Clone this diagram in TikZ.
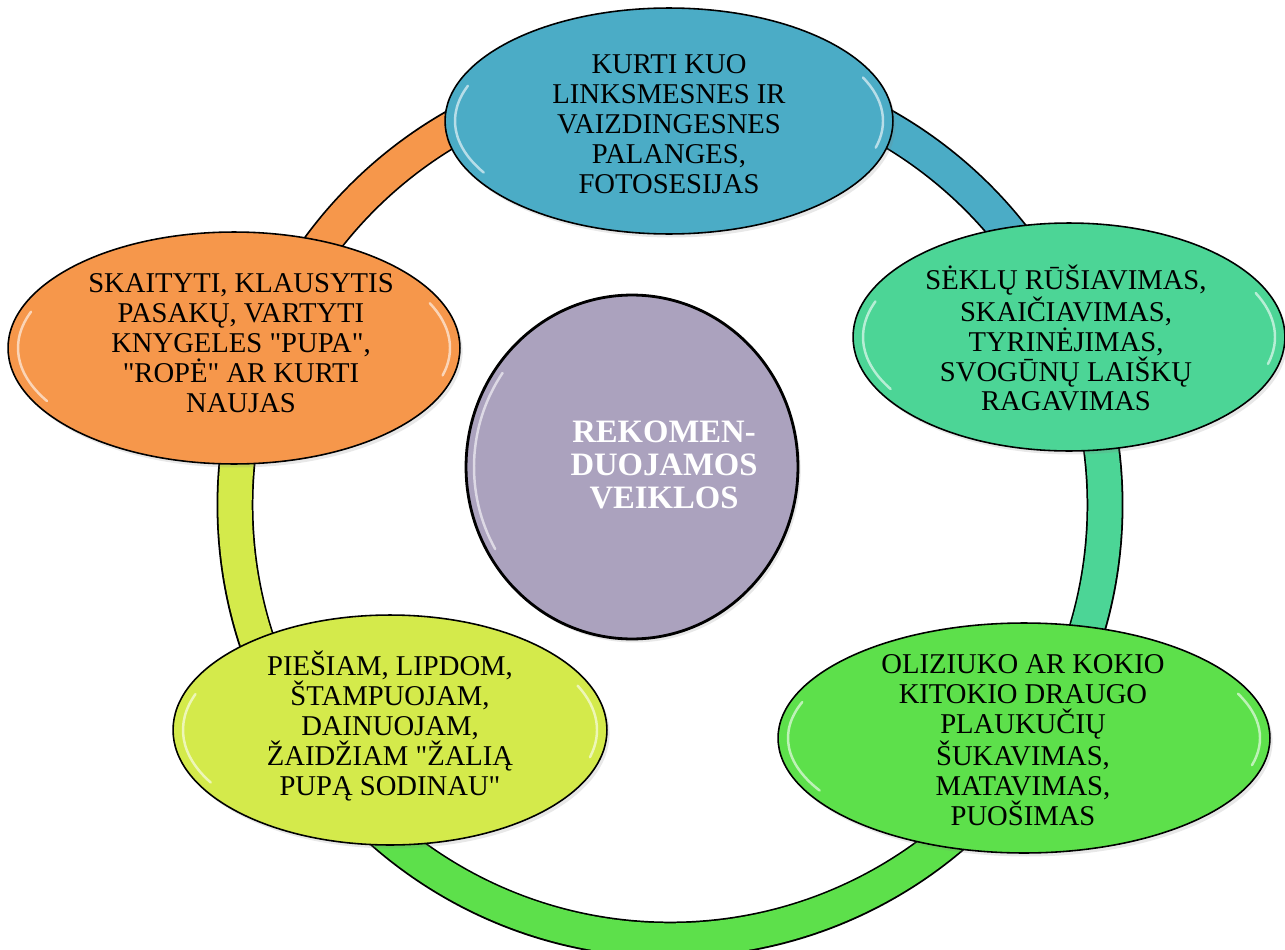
\documentclass[tikz,border=0pt]{standalone}
\usepackage{fontspec}
\setmainfont{Liberation Serif}
\newfontfamily\plainserif{Liberation Serif}
\usetikzlibrary{shapes.geometric,shadows,calc}
\definecolor{cBlue}{HTML}{4BACC6}
\definecolor{cTeal}{HTML}{4CD596}
\definecolor{cGreen}{HTML}{5DE04B}
\definecolor{cYellow}{HTML}{D4EA4B}
\definecolor{cOrange}{HTML}{F6974B}
\definecolor{cPurple}{HTML}{ABA2BE}
\newcommand{\dqt}{{\plainserif\symbol{34}}}
\begin{document}
\begin{tikzpicture}[x=0.02cm,y=-0.02cm,
  bubble/.style={ellipse, draw=black, line width=0.9pt, inner sep=0pt,
    drop shadow={opacity=0.18, shadow xshift=1.5pt, shadow yshift=-2pt}},
  txt/.style={align=center, inner sep=0pt, text=black,
    font=\fontsize{16.3}{17}\selectfont},
  ctxt/.style={align=center, inner sep=0pt,
    font=\bfseries\fontsize{18.6}{19}\selectfont},
  gloss/.style={white, opacity=0.6, line width=1.4pt, line cap=round},
  ringout/.style={black, line width=21pt},
  ringband/.style={line width=19pt}]
\useasboundingbox (0,0) rectangle (1285,950);

% ring behind the ellipses
\coordinate (ring) at (670,505);
\draw[ringout] (ring) circle (435);
\draw[ringband, cBlue]   ($(ring)+(-90:435)$)  arc (-90:-23:435);
\draw[ringband, cTeal]   ($(ring)+(-23:435)$)  arc (-23:33.4:435);
\draw[ringband, cGreen]  ($(ring)+(33.4:435)$) arc (33.4:141.2:435);
\draw[ringband, cYellow] ($(ring)+(141.2:435)$) arc (141.2:199.8:435);
\draw[ringband, cOrange] ($(ring)+(199.8:435)$) arc (199.8:270:435);

% ellipses
\node[bubble, fill=cBlue, minimum width=8.96cm, minimum height=4.52cm] (n1) at (669,121) {};
\node[bubble, fill=cTeal, minimum width=8.64cm, minimum height=4.56cm] (n2) at (1069,337) {};
\node[bubble, fill=cGreen, minimum width=9.84cm, minimum height=4.6cm] (n3) at (1024,738) {};
\node[bubble, fill=cYellow, minimum width=8.68cm, minimum height=4.6cm] (n4) at (390,730) {};
\node[bubble, fill=cOrange, minimum width=9.04cm, minimum height=4.64cm] (n5) at (234,348) {};
\node[bubble, fill=cPurple, line width=1.6pt, minimum width=6.64cm, minimum height=6.88cm] (c) at (632,467) {};

% glossy highlights
\draw[gloss] ($(n1)+(150:214 and 103)$) arc (150:200:214 and 103);
\draw[gloss] ($(n1)+(-25:214 and 103)$) arc (-25:15:214 and 103);
\draw[gloss] ($(n2)+(150:206 and 104)$) arc (150:200:206 and 104);
\draw[gloss] ($(n2)+(-25:206 and 104)$) arc (-25:15:206 and 104);
\draw[gloss] ($(n3)+(150:236 and 105)$) arc (150:200:236 and 105);
\draw[gloss] ($(n3)+(-25:236 and 105)$) arc (-25:15:236 and 105);
\draw[gloss] ($(n4)+(150:207 and 105)$) arc (150:200:207 and 105);
\draw[gloss] ($(n4)+(-25:207 and 105)$) arc (-25:15:207 and 105);
\draw[gloss] ($(n5)+(150:216 and 106)$) arc (150:200:216 and 106);
\draw[gloss] ($(n5)+(-25:216 and 106)$) arc (-25:15:216 and 106);
\draw[gloss] ($(c)+(150:158 and 164)$) arc (150:215:158 and 164);

% texts
\node[txt] (t1) at (669,124) {KURTI KUO\\LINKSMESNES IR\\VAIZDINGESNES\\PALANGES,\\FOTOSESIJAS};
\node[txt] (t2) at (1066,338) {SĖKLŲ RŪŠIAVIMAS,\\SKAIČIAVIMAS,\\TYRINĖJIMAS,\\SVOGŪNŲ LAIŠKŲ\\RAGAVIMAS};
\node[txt] (t3) at (1023,740) {OLIZIUKO AR KOKIO\\KITOKIO DRAUGO\\PLAUKUČIŲ\\ŠUKAVIMAS,\\MATAVIMAS,\\PUOŠIMAS};
\node[txt] (t4) at (390,726) {PIEŠIAM, LIPDOM,\\ŠTAMPUOJAM,\\DAINUOJAM,\\ŽAIDŽIAM \dqt ŽALIĄ\\PUPĄ SODINAU\dqt};
\node[txt] (t5) at (241,343) {SKAITYTI, KLAUSYTIS\\PASAKŲ, VARTYTI\\KNYGELES \dqt PUPA\dqt,\\\dqt ROPĖ\dqt{} AR KURTI\\NAUJAS};
\node[ctxt, text=white] (ct) at ($(c)+(32,-2)$) {REKOMEN-\\DUOJAMOS\\VEIKLOS};
\end{tikzpicture}
\end{document}
